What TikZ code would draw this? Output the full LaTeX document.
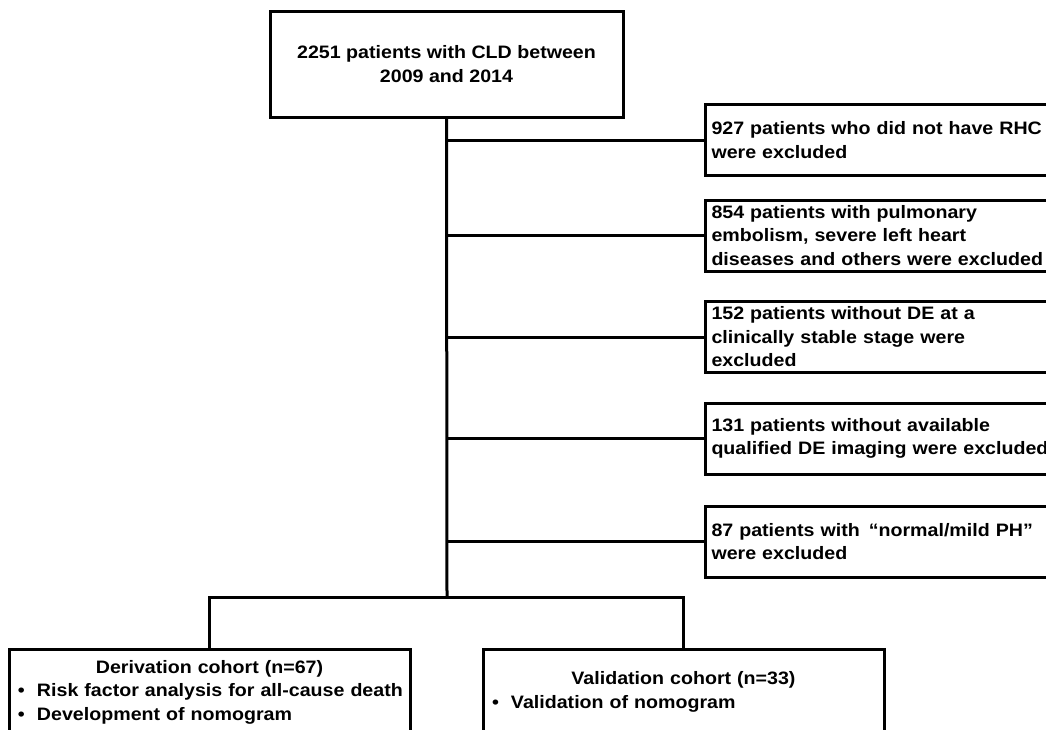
\documentclass[tikz,border=0pt]{standalone}
\usepackage{fontspec}
\setmainfont{Liberation Sans}[FakeStretch=1.09]
\usetikzlibrary{positioning}
\newcommand{\flowfont}{\bfseries\fontsize{18}{23.5}\selectfont}
\newcommand{\bulletitem}{\makebox[22pt][l]{\hspace{3pt}\textbullet}}

\begin{document}
\begin{tikzpicture}[
    x=1pt,
    y=-1pt,
    box/.style={draw,line width=3pt,font=\flowfont},
    topbox/.style={box,minimum width=353pt,minimum height=106pt,align=center},
    exclbox/.style={box,anchor=west,text width=360pt,minimum height=71pt,inner xsep=6pt,align=left},
    cohortbox/.style={box,text width=389pt,minimum height=86pt,inner xsep=6pt},
    link/.style={line width=3pt}
]
  \useasboundingbox (0,0) rectangle (1046,729);
  \clip (0,0) rectangle (1046,729);

  \node[topbox] (total) at (446.5,64) {2251 patients with CLD between\\2009 and 2014};

  % excluded patients
  \node[exclbox] (noRHC)  at (704,140)   {927 patients who did not have RHC\\were excluded};
  \node[exclbox] (embol)  at (704,235.5) {854 patients with pulmonary\\embolism, severe left heart\\diseases and others were excluded};
  \node[exclbox] (noDE)   at (704,337)   {152 patients without DE at a\\clinically stable stage were\\excluded};
  \node[exclbox] (noImg)  at (704,438.5) {131 patients without available\\qualified DE imaging were excluded};
  \node[exclbox] (mildPH) at (704,541.5) {87 patients with \,``normal/mild PH''\\were excluded};

  % cohorts
  \node[cohortbox] (deriv) at (209.5,692) {\centering Derivation cohort (n=67)\par
    \raggedright\bulletitem Risk factor analysis for all-cause death\par
    \bulletitem Development of nomogram};
  \node[cohortbox] (valid) at (683.5,692) {\centering Validation cohort (n=33)\par
    \raggedright\bulletitem Validation of nomogram};

  \coordinate (split) at (447,597);
  \draw[link] (total.south) -- (split);
  \foreach \ex in {noRHC,embol,noDE,noImg,mildPH}
    \draw[link] (\ex.west) -- (\ex.west -| total.south);
  \draw[link] (deriv.north) |- (split) -| (valid.north);
\end{tikzpicture}
\end{document}
